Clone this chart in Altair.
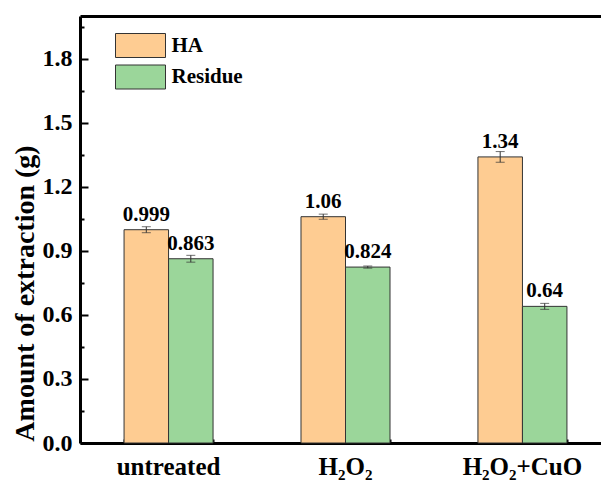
import altair as alt
import pandas as pd

categories = ["untreated", "H₂O₂", "H₂O₂+CuO"]
series = ["HA", "Residue"]
ha_values = [0.999, 1.06, 1.34]
residue_values = [0.863, 0.824, 0.64]
ha_errors = [0.014, 0.012, 0.025]
residue_errors = [0.016, 0.005, 0.014]
ha_labels = ["0.999", "1.06", "1.34"]
residue_labels = ["0.863", "0.824", "0.64"]
y_ticks = [0.0, 0.3, 0.6, 0.9, 1.2, 1.5, 1.8]
y_minor_ticks = [0.15, 0.45, 0.75, 1.05, 1.35, 1.65, 1.95]

rows = []
for i, c in enumerate(categories):
    rows.append(dict(cond=c, series="HA", value=ha_values[i], err=ha_errors[i], label=ha_labels[i]))
    rows.append(dict(cond=c, series="Residue", value=residue_values[i], err=residue_errors[i], label=residue_labels[i]))
df = pd.DataFrame(rows)
df["lo"] = df["value"] - df["err"]
df["hi"] = df["value"] + df["err"]

FONT = "serif"

xscale = alt.Scale(domain=categories, range=[0, 531], paddingInner=0.497, paddingOuter=0.249)
yscale = alt.Scale(domain=[0, 2.0], nice=False, zero=True)
xoff = alt.XOffset("series:N", sort=series, scale=alt.Scale(domain=series, paddingInner=0, paddingOuter=0))

base = alt.Chart(df)

bars = base.mark_bar(stroke="#333333", strokeWidth=1).encode(
    x=alt.X("cond:N", sort=categories, scale=xscale,
            axis=alt.Axis(orient="bottom", title=None, ticks=False, domain=True, domainColor="black",
                          domainWidth=3, labelAngle=0, labelFont=FONT, labelFontSize=25,
                          labelFontWeight="bold", labelColor="black", labelPadding=11)),
    xOffset=xoff,
    y=alt.Y("value:Q", scale=yscale,
            axis=alt.Axis(orient="left", values=y_ticks, format=".1f", ticks=False, domain=True,
                          domainColor="black", domainWidth=3, grid=False, labelFont=FONT,
                          labelFontSize=24, labelFontWeight="bold", labelColor="black", labelPadding=8,
                          title="Amount of extraction (g)", titleFont=FONT, titleFontSize=28,
                          titleFontWeight="bold", titleColor="black", titleAngle=270,
                          titleX=-47, titleY=277, titleAlign="center", titleBaseline="alphabetic")),
    color=alt.Color("series:N", sort=series,
                    scale=alt.Scale(domain=series, range=["#FECC92", "#9BD69A"]),
                    legend=alt.Legend(orient="none", legendX=47.5, legendY=16.5, title=None,
                                      symbolType="M-2,-0.96H2V0.96H-2Z", symbolSize=625,
                                      symbolStrokeColor="#333333", symbolStrokeWidth=1,
                                      symbolOpacity=1, labelFont=FONT, labelFontSize=21,
                                      labelFontWeight="bold", labelColor="black",
                                      labelOffset=18, rowPadding=3.5, padding=0)),
)

err_rule = base.mark_rule(color="#333333", strokeWidth=1).encode(
    x=alt.X("cond:N", sort=categories, scale=xscale,
            axis=alt.Axis(orient="bottom", title=None, labels=False, domain=False, ticks=True,
                          tickSize=8, tickWidth=2, tickColor="black", offset=-8)),
    xOffset=xoff,
    y=alt.Y("lo:Q", scale=yscale,
            axis=alt.Axis(orient="left", title=None, labels=False, domain=False, grid=False,
                          values=y_ticks, ticks=True, tickSize=8, tickWidth=2,
                          tickColor="black", offset=-8)),
    y2="hi:Q",
)

cap_lo = base.mark_tick(color="#333333", orient="horizontal", size=9, thickness=1).encode(
    x=alt.X("cond:N", sort=categories, scale=xscale,
            axis=alt.Axis(orient="bottom", title=None, labels=False, domain=False, ticks=True,
                          tickBand="extent", tickSize=4, tickWidth=2, tickColor="black", offset=-4)),
    xOffset=xoff,
    y=alt.Y("lo:Q", scale=yscale,
            axis=alt.Axis(orient="left", title=None, labels=False, domain=False, grid=False,
                          values=y_minor_ticks, ticks=True, tickSize=4, tickWidth=2,
                          tickColor="black", offset=-4)),
)

cap_hi = base.mark_tick(color="#333333", orient="horizontal", size=9, thickness=1).encode(
    x=alt.X("cond:N", sort=categories, scale=xscale,
            axis=alt.Axis(orient="top", title=None, labels=False, ticks=False, domain=True,
                          domainColor="black", domainWidth=3)),
    xOffset=xoff,
    y=alt.Y("hi:Q", scale=yscale, axis=None),
)

text = base.mark_text(font=FONT, fontSize=21, fontWeight="bold", color="black",
                      baseline="alphabetic", dy=-9).encode(
    x=alt.X("cond:N", sort=categories, scale=xscale, axis=None),
    xOffset=xoff,
    y=alt.Y("value:Q", scale=yscale, axis=None),
    text="label:N",
)

chart = alt.layer(bars, err_rule, cap_lo, cap_hi, text).resolve_axis(
    x="independent", y="independent"
).properties(
    width=521, height=427,
    autosize=alt.AutoSizeParams(type="none"),
    padding={"left": 80, "top": 16, "right": 0, "bottom": 41},
    background="white",
).configure_view(stroke=None)

chart.save("out.html", embed_options={"renderer": "svg", "actions": False})
